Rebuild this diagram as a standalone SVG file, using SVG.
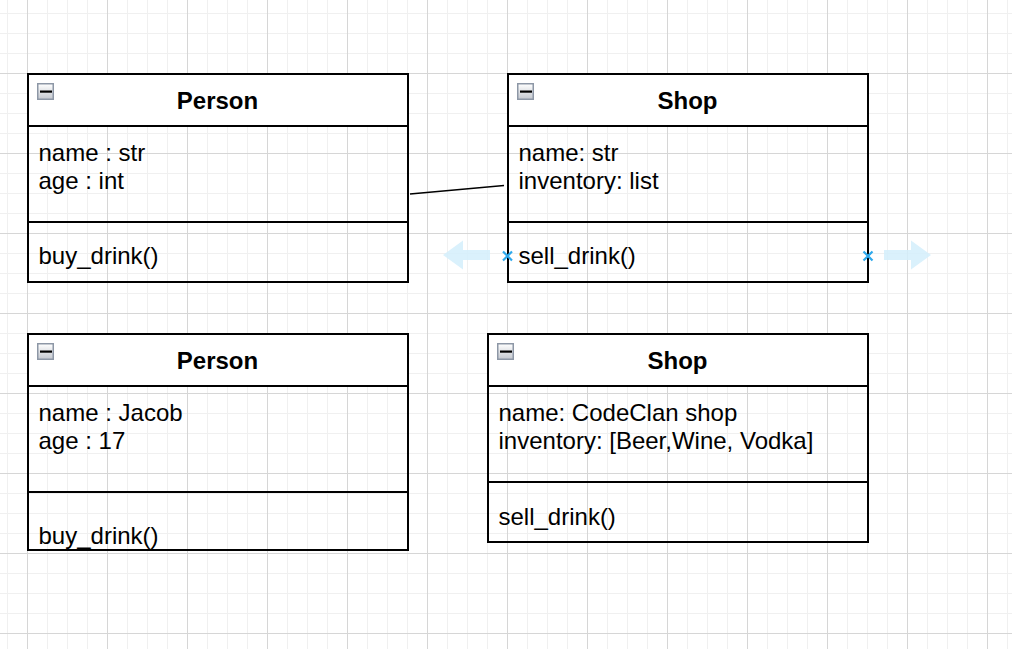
<svg xmlns="http://www.w3.org/2000/svg" width="1012" height="649" viewBox="0 0 1012 649">
  <defs>
    <pattern id="minor" patternUnits="userSpaceOnUse" x="7" y="13" width="20" height="20">
      <path d="M0 0.5H20M0.5 0V20" stroke="#f0f0f0" stroke-width="1" fill="none"/>
    </pattern>
    <pattern id="major" patternUnits="userSpaceOnUse" x="27" y="73" width="80" height="80">
      <path d="M0 0.5H80M0.5 0V80" stroke="#d6d6d6" stroke-width="1" fill="none"/>
    </pattern>
    <linearGradient id="iconGrad" x1="0" y1="0" x2="0" y2="1">
      <stop offset="0" stop-color="#ffffff"/>
      <stop offset="1" stop-color="#c4c8cf"/>
    </linearGradient>
    <g id="collapse">
      <rect x="0.75" y="0.75" width="15.5" height="15.5" fill="url(#iconGrad)" stroke="#8d97a6" stroke-width="1.5"/>
      <rect x="3" y="7.5" width="12" height="2.2" fill="#000"/>
    </g>
    <g id="hoverArrow">
      <path d="M0 0 L20 -14.5 V-5 H47 V5 H20 V14.5 Z" fill="#d4effc" opacity="0.85"/>
    </g>
    <g id="xmark">
      <path d="M-4.5 -4.5 L4.5 4.5 M-4.5 4.5 L4.5 -4.5" stroke="#2fa9ec" stroke-width="2.2" fill="none"/>
    </g>
  </defs>
  <style>
    .hdr { fill: #ffffff; stroke: #000; stroke-width: 2; }
    .box { fill: none; stroke: #000; stroke-width: 2; }
    .sep { stroke: #000; stroke-width: 2; fill: none; }
    .title { font-family: "Liberation Sans", Arial, sans-serif; font-size: 24px; font-weight: bold; fill: #000; text-anchor: middle; }
    .item { font-family: "Liberation Sans", Arial, sans-serif; font-size: 24px; fill: #000; }
  </style>

  <rect width="1012" height="649" fill="#ffffff"/>
  <rect width="1012" height="649" fill="url(#minor)"/>
  <rect width="1012" height="649" fill="url(#major)"/>

  <g id="connectors">
    <line x1="410" y1="194" x2="504" y2="185.5" stroke="#000" stroke-width="1.6"/>
  </g>

  <g id="person1">
    <rect class="hdr" x="28" y="74" width="380" height="52"/>
    <rect class="box" x="28" y="74" width="380" height="208"/>
    <line class="sep" x1="28" y1="222" x2="408" y2="222"/>
    <use href="#collapse" x="37" y="83"/>
    <text class="title" x="217.5" y="109">Person</text>
    <text class="item" x="38.5" y="161">name : str</text>
    <text class="item" x="38.5" y="189">age : int</text>
    <text class="item" x="38.5" y="264">buy_drink()</text>
  </g>

  <g id="shop1">
    <rect class="hdr" x="508" y="74" width="360" height="52"/>
    <rect class="box" x="508" y="74" width="360" height="208"/>
    <line class="sep" x1="508" y1="222" x2="868" y2="222"/>
    <use href="#collapse" x="517" y="83"/>
    <text class="title" x="687.5" y="109">Shop</text>
    <text class="item" x="518.5" y="161">name: str</text>
    <text class="item" x="518.5" y="189">inventory: list</text>
    <text class="item" x="518.5" y="264">sell_drink()</text>
  </g>

  <g id="person2">
    <rect class="hdr" x="28" y="334" width="380" height="52"/>
    <rect class="box" x="28" y="334" width="380" height="216"/>
    <line class="sep" x1="28" y1="492" x2="408" y2="492"/>
    <use href="#collapse" x="37" y="343"/>
    <text class="title" x="217.5" y="369">Person</text>
    <text class="item" x="38.5" y="421">name : Jacob</text>
    <text class="item" x="38.5" y="449">age : 17</text>
    <text class="item" x="38.5" y="544">buy_drink()</text>
  </g>

  <g id="shop2">
    <rect class="hdr" x="488" y="334" width="380" height="52"/>
    <rect class="box" x="488" y="334" width="380" height="208"/>
    <line class="sep" x1="488" y1="482" x2="868" y2="482"/>
    <use href="#collapse" x="497" y="343"/>
    <text class="title" x="677.5" y="369">Shop</text>
    <text class="item" x="498.5" y="421">name: CodeClan shop</text>
    <text class="item" x="498.5" y="449">inventory: [Beer,Wine, Vodka]</text>
    <text class="item" x="498.5" y="525">sell_drink()</text>
  </g>

  <g id="hover-handles">
    <use href="#hoverArrow" transform="translate(443,255)"/>
    <use href="#hoverArrow" transform="translate(931,255) scale(-1,1)"/>
    <use href="#xmark" x="507.5" y="256"/>
    <use href="#xmark" x="868" y="256"/>
  </g>
</svg>
